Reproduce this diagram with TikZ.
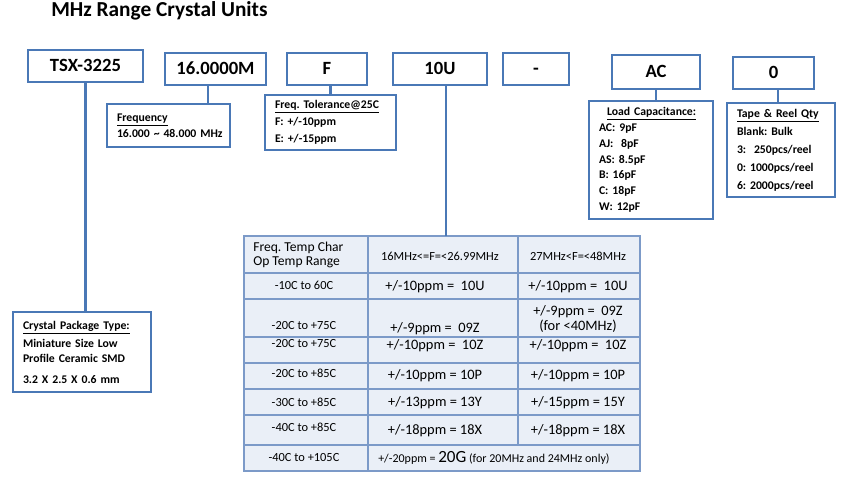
\documentclass[tikz,border=0pt]{standalone}
\usepackage{fontspec}
\setmainfont{Carlito}
\usetikzlibrary{positioning}

\definecolor{boxblue}{RGB}{74,120,182}
\definecolor{gridblue}{RGB}{124,154,200}
\definecolor{cellfill}{RGB}{234,239,247}

\newcommand{\fsz}[2]{\fontsize{#1}{#2}\selectfont\frenchspacing}

\begin{document}
\begin{tikzpicture}[
      x=0.75pt, y=-0.75pt,
      codebox/.style={rectangle, draw=boxblue, line width=1.6pt, inner sep=0pt, minimum height=24pt, text height=9pt, text depth=0pt, font=\fsz{14}{16}\bfseries},
      infobox/.style={rectangle, draw=boxblue, line width=1.6pt, inner xsep=7.5pt, inner ysep=0pt, align=left, font=\fsz{8.8}{12}\bfseries},
      link/.style={draw=boxblue, line width=1.6pt},
      grid/.style={draw=gridblue, line width=1.2pt},
      cell/.style={inner sep=0pt, font=\fsz{10.8}{10.8}},
      opcell/.style={cell, font=\fsz{9.3}{9.3}}
    ]
    \useasboundingbox (0,0) rectangle (843,477);

    \node[anchor=base west, inner sep=0pt, font=\fsz{16}{18}\bfseries] (title) at (51,17) {MHz Range Crystal Units};

    % part number boxes
    \node[codebox, minimum width=86.25pt] (tsx) at (85.5,66) {TSX-3225};
    \node[codebox, minimum width=75.75pt] (freq) at (215.5,69) {16.0000M};
    \node[codebox, minimum width=60pt] (tol) at (327,69) {F};
    \node[codebox, minimum width=70.5pt] (tc) at (440,69) {10U};
    \node[codebox, minimum width=49.5pt] (dash) at (536,69) {-};
    \node[codebox, minimum width=66pt, minimum height=25.5pt] (load) at (656,72) {AC};
    \node[codebox, minimum width=60.75pt] (reel) at (773.5,73) {0};

    % explanation boxes
    \node[infobox, text width=77.25pt, minimum height=32.25pt] (freqinfo) at (168.5,125.5)
      {\underline{Frequency}\\\mbox{16.000 \textasciitilde\ 48.000 MHz}};
    \node[infobox, text width=83.25pt, minimum height=41.25pt, font=\fsz{8.8}{12.75}\bfseries] (tolinfo) at (330.5,122.5)
      {\underline{Freq. Tolerance@25C}\\F: +/-10ppm\\E: +/-15ppm};
    \node[infobox, text width=78pt, minimum height=88.5pt, font=\fsz{8.8}{11.8}\bfseries] (loadinfo) at (651,160)
      {\hspace*{6pt}\underline{Load Capacitance:}\\AC: 9pF\\AJ:\ \ 8pF\\AS: 8.5pF\\B: 16pF\\C: 18pF\\W: 12pF};
    \node[infobox, text width=66pt, minimum height=70.5pt, font=\fsz{8.8}{13.5}\bfseries] (reelinfo) at (781,150)
      {\underline{Tape \& Reel Qty}\\Blank: Bulk\\3:\ \ 250pcs/reel\\0: 1000pcs/reel\\6: 2000pcs/reel};
    \node[infobox, text width=88.5pt, minimum height=60pt, font=\fsz{8.8}{11.25}\bfseries] (pkginfo) at (82,352)
      {\underline{Crystal Package Type:}\\[2.25pt]Miniature Size Low\\Profile Ceramic SMD\\[4.5pt]3.2 X 2.5 X 0.6 mm};

    % frequency / temperature table
    \fill[cellfill] (244,236) rectangle (640,471);
    \draw[grid] (244,236) rectangle (640,471);
    \foreach \y in {273,299,337,363,389,415,445}
      \draw[grid] (244,\y) -- (640,\y);
    \draw[grid] (368,236) -- (368,471);
    \draw[grid] (518,236) -- (518,445);

    \node[cell, anchor=west, align=left, font=\fsz{10.2}{10.5}] (hdrop) at (253,255) {Freq. Temp Char\\Op Temp Range};
    \node[opcell] (hdrlow) at (440,256) {16MHz<=F=<26.99MHz};
    \node[opcell] (hdrhigh) at (578,256) {27MHz<F=<48MHz};

    \node[opcell] (op1) at (304,285) {-10C to 60C};
    \node[cell] (low1) at (435,287) {+/-10ppm =\ \ 10U};
    \node[cell] (high1) at (578,287) {+/-10ppm =\ \ 10U};

    \node[opcell] (op2) at (304,326) {-20C to +75C};
    \node[cell] (low2) at (435,329) {+/-9ppm =\ \ 09Z};
    \node[cell, align=center, font=\fsz{10.8}{11.25}] (high2) at (578,319.5) {+/-9ppm =\ \ 09Z\\(for <40MHz)};

    \node[opcell] (op3) at (304,344) {-20C to +75C};
    \node[cell] (low3) at (435,346) {+/-10ppm =\ \ 10Z};
    \node[cell] (high3) at (578,346) {+/-10ppm =\ \ 10Z};

    \node[opcell] (op4) at (304,373) {-20C to +85C};
    \node[cell] (low4) at (435,376) {+/-10ppm = 10P};
    \node[cell] (high4) at (578,376) {+/-10ppm = 10P};

    \node[opcell] (op5) at (304,402) {-30C to +85C};
    \node[cell] (low5) at (435,403) {+/-13ppm = 13Y};
    \node[cell] (high5) at (578,403) {+/-15ppm = 15Y};

    \node[opcell] (op6) at (304,427) {-40C to +85C};
    \node[cell] (low6) at (435,431) {+/-18ppm = 18X};
    \node[cell] (high6) at (578,431) {+/-18ppm = 18X};

    \node[opcell] (op7) at (304,458) {-40C to +105C};
    \node[cell, anchor=west, font=\fsz{9}{9}] (note7) at (378,458) {+/-20ppm = {\fontsize{12.8}{12.8}\selectfont 20G} (for 20MHz and 24MHz only)};

    % connectors
    \coordinate (freqx) at (208,0);
    \coordinate (reelx) at (778,0);
    \coordinate (tabletop) at (446,236);
    \draw[link] (tsx.south) -- (tsx.south |- pkginfo.north);
    \draw[link] (freq.south -| freqx) -- (freqinfo.north -| freqx);
    \draw[link] (tolinfo.north |- tol.south) -- (tolinfo.north);
    \draw[link] (tabletop |- tc.south) -- (tabletop);
    \draw[link] (load.south) -- (load.south |- loadinfo.north);
    \draw[link] (reel.south -| reelx) -- (reelinfo.north -| reelx);
  \end{tikzpicture}
\end{document}
